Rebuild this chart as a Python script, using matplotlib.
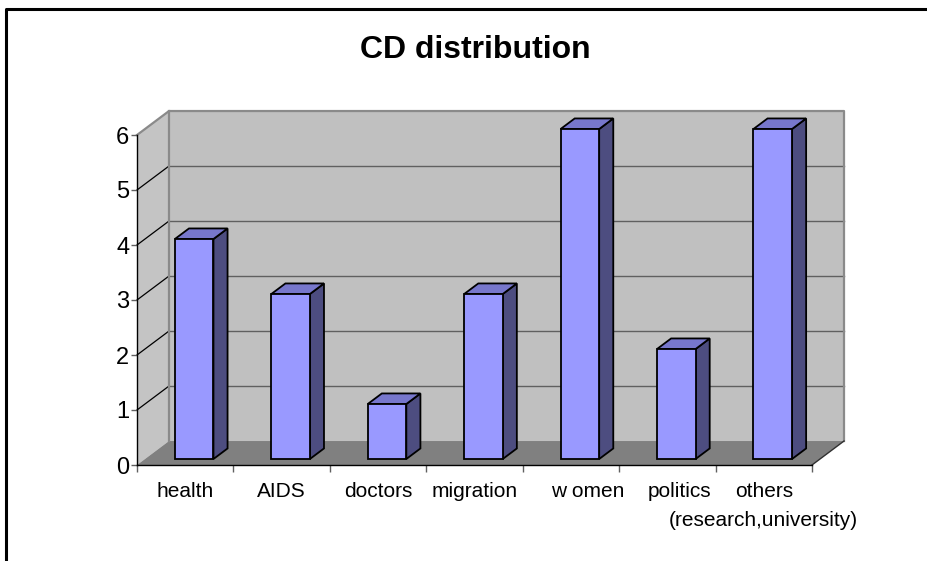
import matplotlib.pyplot as plt
from matplotlib.lines import Line2D

plt.rcParams['font.family'] = ['Liberation Sans', 'DejaVu Sans']

categories = ['health', 'AIDS', 'doctors', 'migration', 'w omen', 'politics',
              'others\n(research,university)']
counts = [4, 3, 1, 3, 6, 2, 6]
yticks = [0, 1, 2, 3, 4, 5, 6]

# depth offset of the back wall, in data units
DX, DY = 0.332, 0.436
# bar front/back depth (fraction of full depth), bar left offset and width
F0, F1 = 0.25, 0.69
BL, BW = 0.31, 0.40

fig = plt.figure(figsize=(9.28, 5.61), dpi=100)
ax = fig.add_axes([137 / 928, 96 / 561, 675 / 928, 330 / 561])
ax.set_xlim(0, len(categories))
ax.set_ylim(0, 6)
ax.patch.set_visible(False)

n = len(categories)
top = max(yticks)


def pt(x, y, d):
    return x + d * DX, y + d * DY


def poly(pts, fc, ec='none', lw=0, z=1):
    xs, ys = zip(*pts)
    ax.fill(xs, ys, facecolor=fc, edgecolor=ec, linewidth=lw,
            clip_on=False, zorder=z, joinstyle='miter')


# walls and floor
poly([pt(0, 0, 1), pt(n, 0, 1), pt(n, top, 1), pt(0, top, 1)], '#c0c0c0', z=0.5)
poly([pt(0, 0, 0), pt(0, 0, 1), pt(0, top, 1), pt(0, top, 0)], '#c4c4c4', z=0.5)
poly([pt(0, 0, 0), pt(n, 0, 0), pt(n, 0, 1), pt(0, 0, 1)], '#808080', z=0.6)

# gridlines on the back wall and the side wall
for k in yticks[1:-1]:
    x0, y0 = pt(0, k, 1)
    x1, y1 = pt(n, k, 1)
    ax.plot([x0, x1], [y0, y1], color='#606060', lw=1.0, clip_on=False, zorder=0.7)
    ax.plot([0, x0], [k, y0], color='black', lw=0.9, clip_on=False, zorder=0.7)

# wall edges
edge = dict(color='#8a8a8a', lw=1.6, clip_on=False, zorder=0.8)
xa, ya = pt(0, top, 0)
xb, yb = pt(0, top, 1)
xc, yc = pt(n, top, 1)
xd, yd = pt(n, 0, 1)
ax.plot([xa, xb, xc, xd], [ya, yb, yc, yd], **edge)
ax.plot([xb, xb], [pt(0, 0, 1)[1], yb], **edge)
ax.plot([n, xd], [0, yd], color='#303030', lw=1.0, clip_on=False, zorder=0.8)

# 3D columns
for i, v in enumerate(counts):
    l, r = i + BL, i + BL + BW
    front = [pt(l, 0, F0), pt(r, 0, F0), pt(r, v, F0), pt(l, v, F0)]
    side = [pt(r, 0, F0), pt(r, 0, F1), pt(r, v, F1), pt(r, v, F0)]
    cap = [pt(l, v, F0), pt(r, v, F0), pt(r, v, F1), pt(l, v, F1)]
    poly(side, '#4d4d80', 'black', 1.3, z=2)
    poly(cap, '#7777cc', 'black', 1.3, z=2)
    poly(front, '#9999ff', 'black', 1.3, z=2)

# axes
for s in ['top', 'right']:
    ax.spines[s].set_visible(False)
for s in ['left', 'bottom']:
    ax.spines[s].set_color('black')
    ax.spines[s].set_linewidth(1.0)
    ax.spines[s].set_zorder(3)
ax.set_yticks(yticks)
ax.set_xticks(range(n + 1))
ax.set_xticklabels([])
ax.tick_params(axis='y', length=4.5, width=1.0, color='#606060', labelsize=17, pad=1)
ax.tick_params(axis='x', length=5, width=1.0, color='#606060')

# category labels, wrapped lines drawn one under the other
nudge = [0, 0, 0, 0, 0.17, 0.13, 0]
for i, name in enumerate(categories):
    for j, line in enumerate(name.split('\n')):
        ax.text(i + 0.5 + nudge[i], -0.31 - j * 0.53, line, ha='center', va='top',
                fontsize=15, clip_on=False)

fig.text(475 / 928, 1 - 50 / 561, 'CD distribution', ha='center', va='center',
         fontsize=23, fontweight='bold')

# chart frame
fig.add_artist(Line2D([6 / 928, 6 / 928, 1], [0, 1 - 9 / 561, 1 - 9 / 561],
                      color='black', lw=2.2, transform=fig.transFigure))

fig.savefig('out.png', dpi=100)
